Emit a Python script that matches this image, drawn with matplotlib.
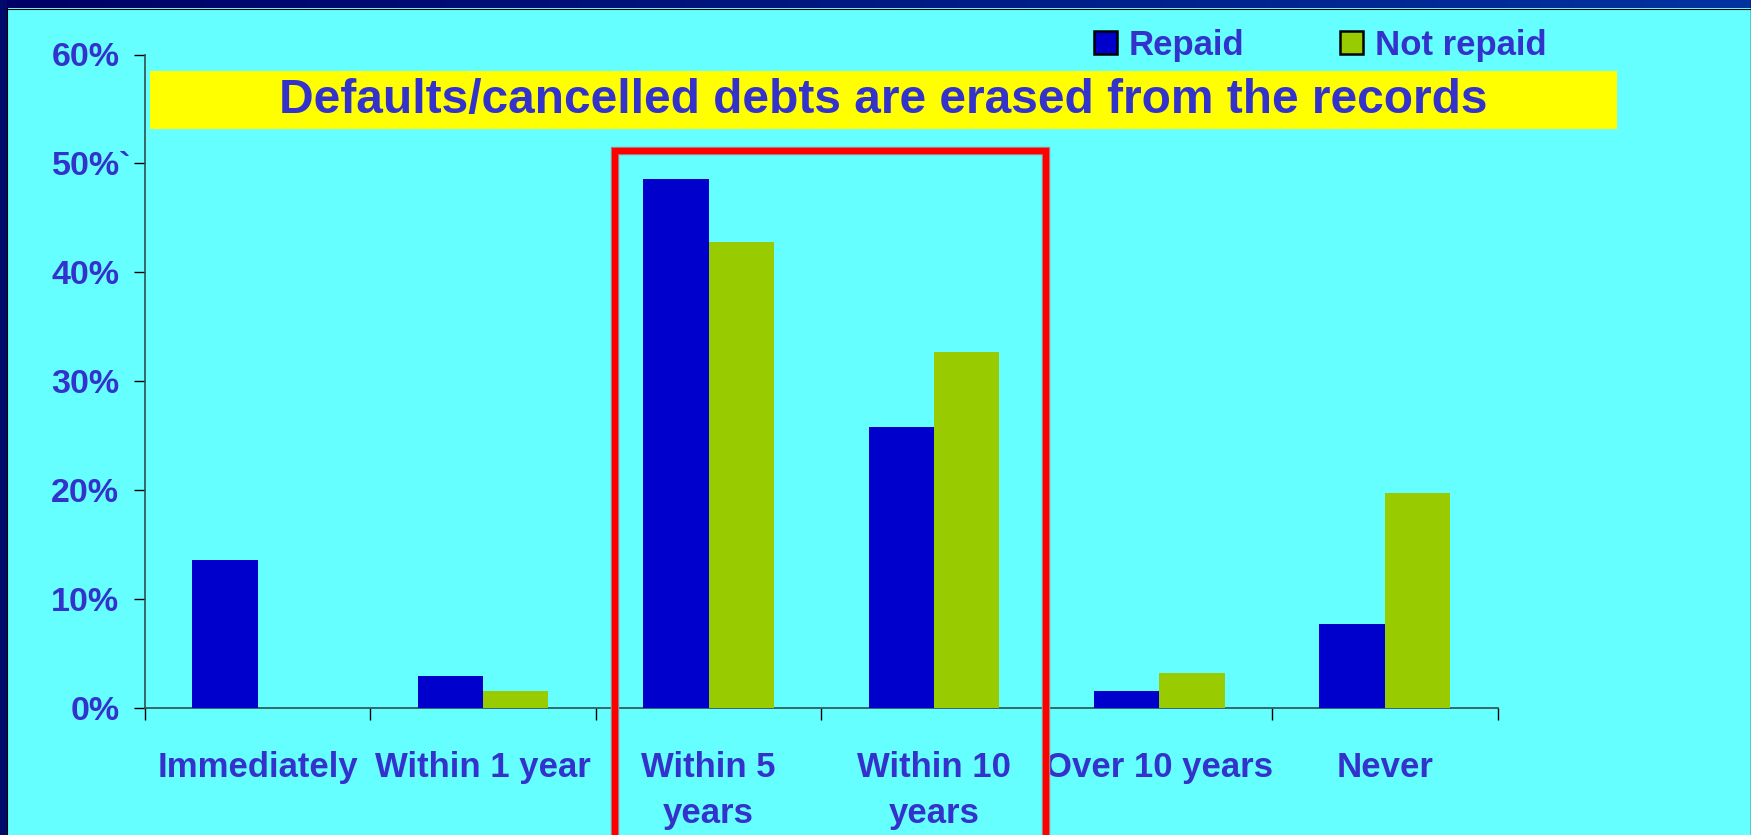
import numpy as np
import matplotlib.pyplot as plt
from matplotlib.patches import Patch, Rectangle
from matplotlib.colors import LinearSegmentedColormap
import matplotlib.transforms as mtransforms

# Données : part des dettes (en %) selon le délai d'effacement des fichiers
categories = ["Immediately", "Within 1 year", "Within 5\nyears",
              "Within 10\nyears", "Over 10 years", "Never"]
repaid = [13.6, 2.9, 48.6, 25.8, 1.6, 7.7]
not_repaid = [0.0, 1.6, 42.8, 32.7, 3.2, 19.7]
yticks = [0, 10, 20, 30, 40, 50, 60]
ytick_labels = ["0%", "10%", "20%", "30%", "40%", "50%`", "60%"]
title = "Defaults/cancelled debts are erased from the records"

W, H = 1751, 835
BG = "#66FFFF"
TXT = "#3333CC"
BLUE = "#0000CC"
GREEN = "#99CC00"

plt.rcParams["font.family"] = ["Liberation Sans", "DejaVu Sans"]
plt.rcParams["font.weight"] = "bold"

fig = plt.figure(figsize=(W / 100, H / 100), dpi=100, facecolor=BG)


def fx(px):
    return px / W


def fy(py):
    return 1 - py / H


# axes principal
ax = fig.add_axes([fx(145), fy(708), fx(1497.5 - 145), (708 - 54.5) / H])
ax.set_facecolor("none")
x = np.arange(len(categories))
bw = 0.29
ax.bar(x - bw / 2, repaid, bw, color=BLUE, label="Repaid", zorder=3)
ax.bar(x + bw / 2, not_repaid, bw, color=GREEN, label="Not repaid", zorder=3)

ax.set_xlim(-0.5, len(categories) - 0.5)
ax.set_ylim(0, 60)
for s in ["top", "right"]:
    ax.spines[s].set_visible(False)
for s in ["left", "bottom"]:
    ax.spines[s].set_color("#2f4f4f")
    ax.spines[s].set_linewidth(1.2)

ax.set_yticks(yticks)
ax.set_yticklabels(ytick_labels)
ax.tick_params(axis="y", direction="out", length=8, width=1, color="black",
               labelsize=24.5, labelcolor=TXT, pad=10.5)

# graduations entre les catégories, libellés au centre
ax.set_xticks(np.arange(-0.5, len(categories)), labels=[""] * (len(categories) + 1))
ax.set_xticks(x, labels=categories, minor=True)
ax.tick_params(axis="x", which="major", direction="out", length=8.5, width=1, color="black")
ax.tick_params(axis="x", which="minor", length=0, labelsize=25, labelcolor=TXT, pad=31)
for lab in ax.get_xticklabels(minor=True):
    lab.set_fontweight("bold")
    lab.set_linespacing(1.5)
for lab in ax.get_yticklabels():
    lab.set_fontweight("bold")
    if lab.get_text().endswith("`"):
        lab.set_transform(lab.get_transform() +
                          mtransforms.ScaledTranslation(12.5 / 100, 0, fig.dpi_scale_trans))

# légende
handles = [Patch(facecolor=BLUE, edgecolor="black", linewidth=1.8, label="Repaid"),
           Patch(facecolor=GREEN, edgecolor="black", linewidth=1.8, label="Not repaid")]
leg = fig.legend(handles=handles, loc="center left", bbox_to_anchor=(fx(1094), fy(45)),
                 ncol=2, frameon=False, borderpad=0, borderaxespad=0,
                 handlelength=0.66, handleheight=0.66, handletextpad=0.35,
                 columnspacing=2.75, prop={"size": 25, "weight": "bold"})
for t in leg.get_texts():
    t.set_color(TXT)

# bandeau jaune du titre
fig.patches.append(Rectangle((fx(150), fy(129)), fx(1617 - 150), (129 - 71) / H,
                             transform=fig.transFigure, facecolor="#FFFF00",
                             edgecolor="none", zorder=1))
fig.text(fx(883.5), fy(100), title, ha="center", va="center", fontsize=34.5,
         fontweight="bold", color=TXT, zorder=2)

# cadre rouge autour de 5 et 10 ans
for col, lw in [("#9a9a9a", 6.1), ("#FF0000", 4.6)]:
    fig.patches.append(Rectangle((fx(614.5), fy(880)), fx(1046.3 - 614.5), (880 - 151.3) / H,
                                 transform=fig.transFigure, facecolor="none",
                                 edgecolor=col, linewidth=lw, zorder=10))

# bordures de la diapositive
cmap = LinearSegmentedColormap.from_list("bord", ["#000066", "#0033A0"])
top = fig.add_axes([0, fy(8), 1, 8 / H])
top.imshow(np.linspace(0, 1, 256)[None, :], aspect="auto", cmap=cmap)
top.axis("off")
fig.patches.append(Rectangle((0, 0), fx(7), 1, transform=fig.transFigure,
                             facecolor="#000a6b", edgecolor="none", zorder=11))
fig.lines.append(plt.Line2D([fx(7), fx(7)], [0, fy(8)], transform=fig.transFigure,
                            color="black", linewidth=0.8, zorder=12))
fig.lines.append(plt.Line2D([fx(7), 1], [fy(8.5), fy(8.5)], transform=fig.transFigure,
                            color="black", linewidth=0.8, zorder=12))
fig.lines.append(plt.Line2D([fx(1750.5), fx(1750.5)], [0, 1], transform=fig.transFigure,
                            color="black", linewidth=1, zorder=12))

fig.savefig("out.png", dpi=100, facecolor=BG)
